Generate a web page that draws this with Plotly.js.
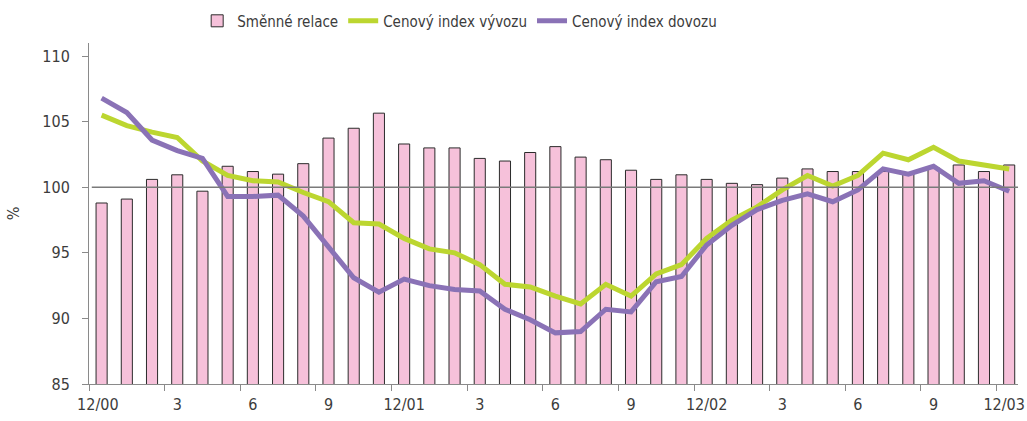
<!DOCTYPE html>
<html>
<head>
<meta charset="utf-8">
<script src="https://cdn.plot.ly/plotly-3.0.1.min.js"></script>
<style>
  html, body { margin: 0; padding: 0; background: #ffffff; }
  #chart { width: 1027px; height: 421px; }
</style>
</head>
<body>
<div id="chart"></div>
<script>
// Category index (months 12/2000 .. 12/2003)
const months = [
  0,1,2,3,4,5,6,7,8,9,10,11,12,13,14,15,16,17,18,19,20,21,22,23,24,25,26,27,28,29,30,31,32,33,34,35,36
];
// Tick labels every 3 months
const tickLabels = ["12/00","3","6","9","12/01","3","6","9","12/02","3","6","9","12/03"];

// Směnné relace (bars)
const smenneRelace = [
  98.8, 99.1, 100.6, 100.95, 99.7, 101.6, 101.2, 101.0, 101.8, 103.75, 104.5, 105.65,
  103.3, 103.0, 103.0, 102.2, 102.0, 102.65, 103.1, 102.3, 102.1, 101.3, 100.6, 100.95,
  100.6, 100.3, 100.2, 100.7, 101.4, 101.2, 101.2, 101.2, 101.0, 101.5, 101.7, 101.2, 101.7
];
// Cenový index vývozu (green line)
const indexVyvozu = [
  105.5, 104.7, 104.2, 103.8, 102.0, 100.9, 100.5, 100.4, 99.6, 98.9, 97.3, 97.2,
  96.1, 95.3, 95.0, 94.1, 92.6, 92.4, 91.7, 91.1, 92.6, 91.7, 93.4, 94.1,
  96.1, 97.5, 98.5, 99.8, 100.9, 100.1, 100.9, 102.6, 102.1, 103.05, 102.0, 101.7, 101.4
];
// Cenový index dovozu (purple line)
const indexDovozu = [
  106.8, 105.7, 103.6, 102.8, 102.2, 99.3, 99.3, 99.4, 97.8, 95.4, 93.1, 92.0,
  93.0, 92.5, 92.2, 92.1, 90.7, 89.9, 88.9, 89.0, 90.7, 90.5, 92.8, 93.2,
  95.6, 97.1, 98.3, 99.0, 99.5, 98.9, 99.8, 101.4, 101.0, 101.6, 100.3, 100.5, 99.7
];

const refLevel = 100;

// label positions (every 3rd month; the two end labels nudged inwards as in the original)
const labelPos = tickLabels.map((_, i) => {
  const m = months[i * 3];
  if (i === 0) return m - 0.15;
  if (i === tickLabels.length - 1) return m - 0.2;
  return m;
});
// tick-mark positions: category boundaries every 3 months
const tickPos = tickLabels.map((_, i) => months[i * 3] - 0.5);

const fontFam = "DejaVu Sans Condensed, Liberation Sans Narrow, sans-serif";
const textColor = "#3c3c3c";
const axisColor = "#8a8a8a";
const xRange = [-0.5, 36.35];

const traces = [
  {
    type: "bar",
    name: "Směnné relace",
    x: months,
    y: smenneRelace,
    xaxis: "x",
    yaxis: "y",
    width: 0.44,
    marker: { color: "#F6C1DA", line: { color: "#2b2b2b", width: 1 } },
    hoverinfo: "skip"
  },
  {
    type: "scatter",
    mode: "lines",
    name: "Cenový index vývozu",
    x: months,
    y: indexVyvozu,
    xaxis: "x2",
    yaxis: "y",
    line: { color: "#BCD630", width: 5 },
    hoverinfo: "skip"
  },
  {
    type: "scatter",
    mode: "lines",
    name: "Cenový index dovozu",
    x: months,
    y: indexDovozu,
    xaxis: "x2",
    yaxis: "y",
    line: { color: "#8A72B6", width: 5 },
    hoverinfo: "skip"
  }
];

const layout = {
  width: 1027,
  height: 421,
  margin: { l: 89, r: 9, t: 43, b: 37 },
  paper_bgcolor: "#ffffff",
  plot_bgcolor: "#ffffff",
  font: { family: fontFam, size: 16, color: textColor },
  showlegend: true,
  legend: {
    orientation: "h",
    traceorder: "normal",
    xref: "container",
    yref: "container",
    x: 0.192,
    xanchor: "left",
    y: 0.95,
    yanchor: "middle",
    font: { family: fontFam, size: 15, color: textColor },
    itemwidth: 30,
    bgcolor: "rgba(0,0,0,0)"
  },
  xaxis: {
    range: xRange,
    tickmode: "array",
    tickvals: tickPos,
    ticks: "outside",
    ticklen: 6,
    tickcolor: axisColor,
    tickwidth: 1,
    showticklabels: false,
    showline: true,
    linecolor: axisColor,
    linewidth: 1,
    showgrid: false,
    zeroline: false,
    fixedrange: true
  },
  xaxis2: {
    overlaying: "x",
    anchor: "y",
    side: "bottom",
    range: xRange,
    tickmode: "array",
    tickvals: labelPos,
    ticktext: tickLabels,
    ticks: "",
    ticklabelstandoff: 9,
    ticklabeloverflow: "allow",
    showline: false,
    showgrid: false,
    zeroline: false,
    tickfont: { family: fontFam, size: 16, color: textColor },
    fixedrange: true
  },
  yaxis: {
    range: [85, 111],
    tickmode: "array",
    tickvals: [85, 90, 95, 100, 105, 110],
    ticks: "outside",
    ticklen: 6,
    tickcolor: axisColor,
    tickwidth: 1,
    ticklabelstandoff: 9,
    showline: true,
    linecolor: axisColor,
    linewidth: 1,
    showgrid: false,
    zeroline: false,
    tickfont: { family: fontFam, size: 16, color: textColor },
    title: { text: "%", font: { family: fontFam, size: 16, color: textColor }, standoff: 18 },
    fixedrange: true
  },
  shapes: [
    {
      type: "line",
      xref: "paper",
      yref: "y",
      x0: 0.003,
      x1: 1,
      y0: refLevel,
      y1: refLevel,
      line: { color: "#7a7a7a", width: 1.5 },
      layer: "above"
    }
  ]
};

Plotly.newPlot("chart", traces, layout, { displayModeBar: false, staticPlot: true });
</script>
</body>
</html>
